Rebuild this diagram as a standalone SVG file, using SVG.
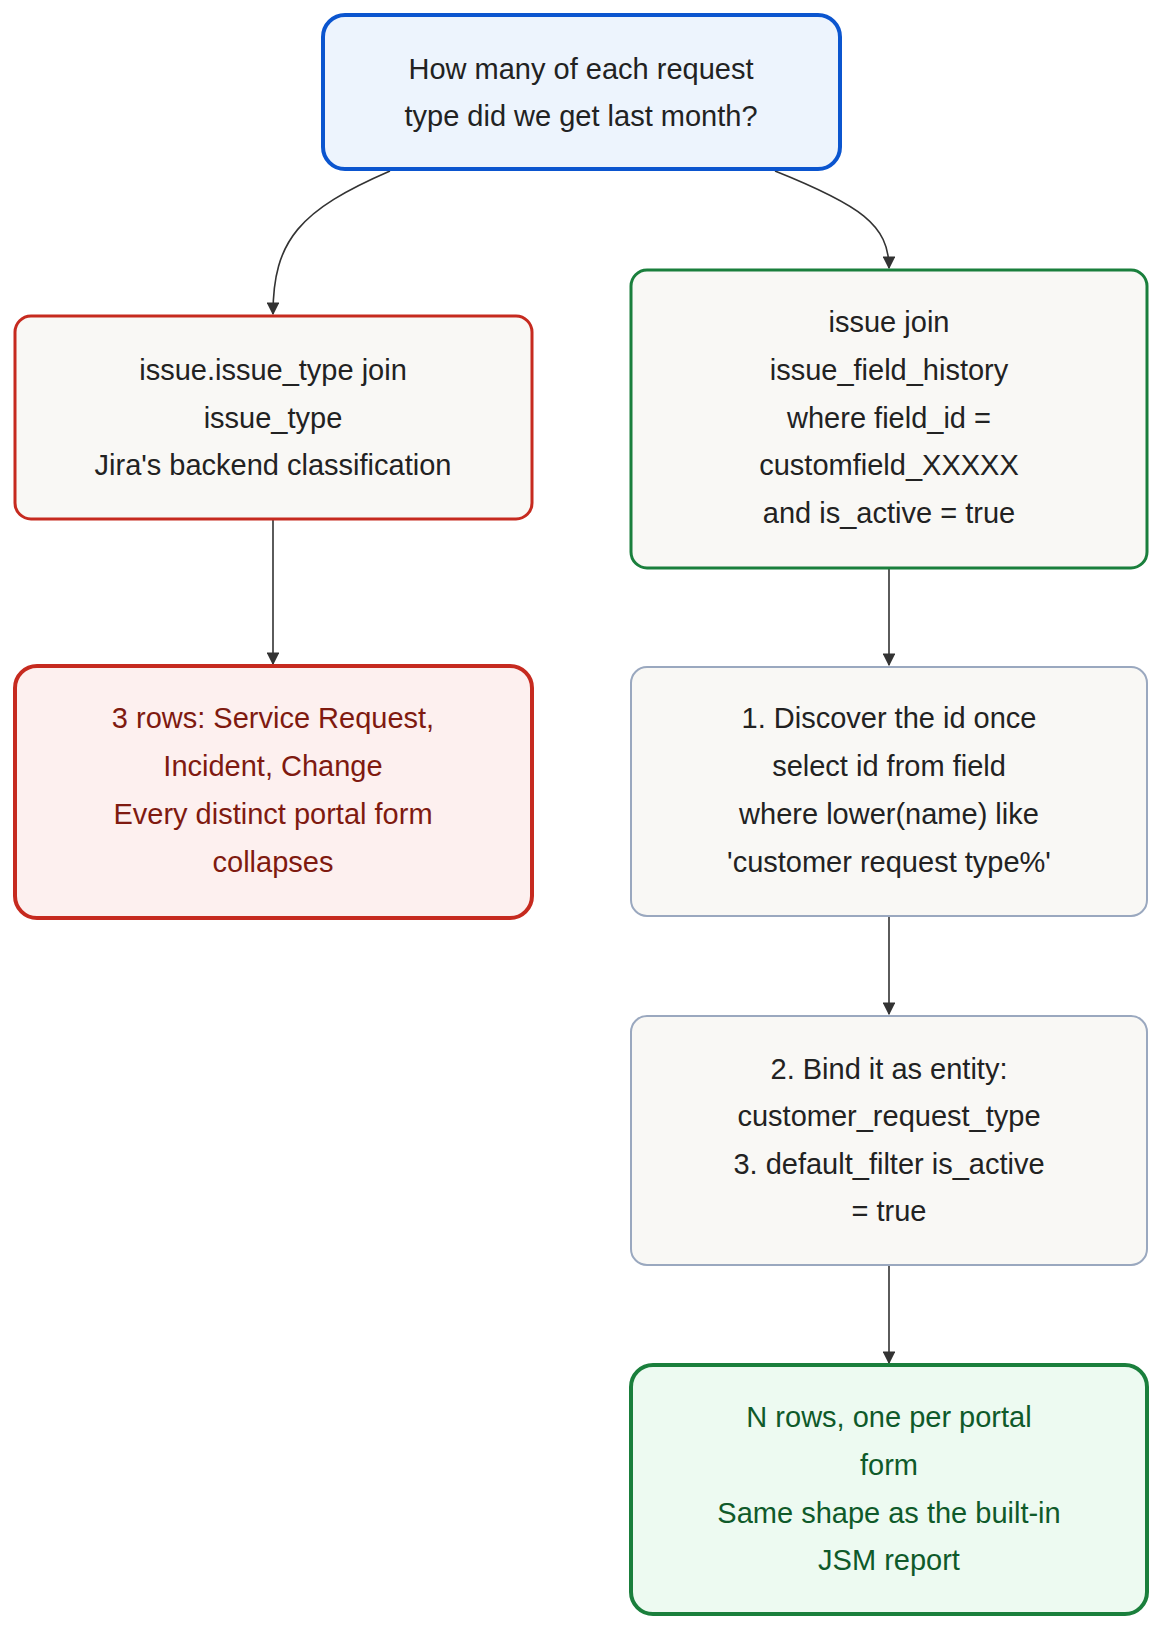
<svg xmlns="http://www.w3.org/2000/svg" width="1172" height="1644" viewBox="0 0 1172 1644">
<style>
text{font-family:"Liberation Sans","DejaVu Sans",sans-serif;font-size:29px;text-anchor:middle;dominant-baseline:central;fill:#222}
.e{fill:none;stroke:#333;stroke-width:1.6}
.red text{fill:#7f1a10}.grn text{fill:#0f5a2a}
</style>
<defs><marker id="a" viewBox="0 0 10 10" refX="9" refY="5" markerWidth="8" markerHeight="8" orient="auto"><path d="M0,0L10,5L0,10z" fill="#333"/></marker></defs>
<rect width="1172" height="1644" fill="#fff"/>
<g id="edges">
<path class="e" d="M390,171 C300,210 273,240 273,314" marker-end="url(#a)"/>
<path class="e" d="M775,171 C860,205 889,225 889,268" marker-end="url(#a)"/>
<path class="e" d="M273,519 V664" marker-end="url(#a)"/>
<path class="e" d="M889,568 V665" marker-end="url(#a)"/>
<path class="e" d="M889,916 V1014" marker-end="url(#a)"/>
<path class="e" d="M889,1265 V1363" marker-end="url(#a)"/>
</g>
<g id="q"><rect x="323" y="15" width="517" height="154" rx="22" fill="#edf4fd" stroke="#0b55cf" stroke-width="4"/><text x="581" y="69">How many of each request</text><text x="581" y="116">type did we get last month?</text></g>
<g id="l1"><rect x="15" y="316" width="517" height="203" rx="16" fill="#f9f8f5" stroke="#c62a1f" stroke-width="3"/><text x="273" y="370">issue.issue_type join</text><text x="273" y="418">issue_type</text><text x="273" y="465">Jira's backend classification</text></g>
<g id="l2" class="red"><rect x="15" y="666" width="517" height="252" rx="22" fill="#fdf0ef" stroke="#c62a1f" stroke-width="4"/><text x="273" y="718">3 rows: Service Request,</text><text x="273" y="766">Incident, Change</text><text x="273" y="814">Every distinct portal form</text><text x="273" y="862">collapses</text></g>
<g id="r1"><rect x="631" y="270" width="516" height="298" rx="16" fill="#f9f8f5" stroke="#1a7f3c" stroke-width="3"/><text x="889" y="322">issue join</text><text x="889" y="370">issue_field_history</text><text x="889" y="418">where field_id =</text><text x="889" y="465">customfield_XXXXX</text><text x="889" y="513">and is_active = true</text></g>
<g id="r2"><rect x="631" y="667" width="516" height="249" rx="16" fill="#f9f8f5" stroke="#9aa8bf" stroke-width="2"/><text x="889" y="718">1. Discover the id once</text><text x="889" y="766">select id from field</text><text x="889" y="814">where lower(name) like</text><text x="889" y="862">'customer request type%'</text></g>
<g id="r3"><rect x="631" y="1016" width="516" height="249" rx="16" fill="#f9f8f5" stroke="#9aa8bf" stroke-width="2"/><text x="889" y="1069">2. Bind it as entity:</text><text x="889" y="1116">customer_request_type</text><text x="889" y="1164">3. default_filter is_active</text><text x="889" y="1211">= true</text></g>
<g id="r4" class="grn"><rect x="631" y="1365" width="516" height="249" rx="22" fill="#edfaf1" stroke="#1a7f3c" stroke-width="4"/><text x="889" y="1417">N rows, one per portal</text><text x="889" y="1465">form</text><text x="889" y="1513">Same shape as the built-in</text><text x="889" y="1560">JSM report</text></g>
</svg>
